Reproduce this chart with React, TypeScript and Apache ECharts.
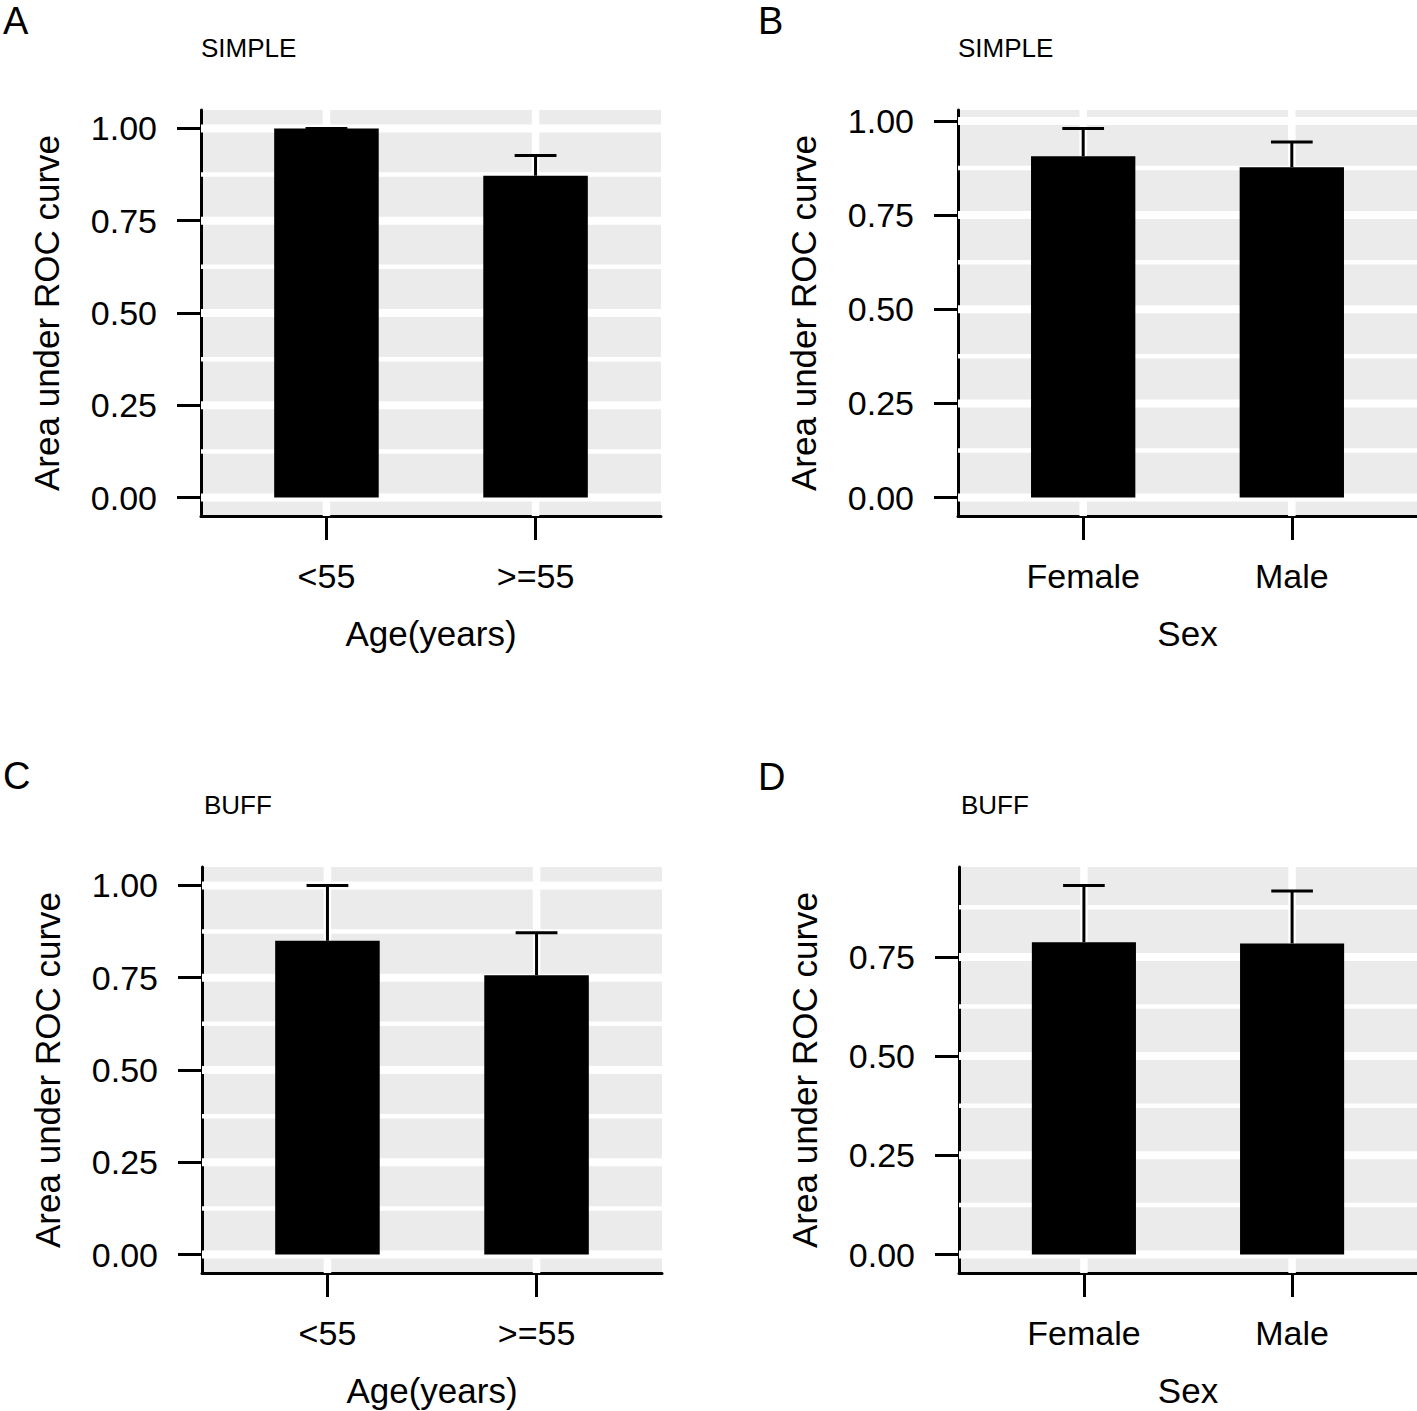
import React, { useEffect, useRef } from "react";
import * as echarts from "echarts";

// ---------- data ----------
const ageCategories = ["<55", ">=55"];
const sexCategories = ["Female", "Male"];

const simpleAgeAUC = [1.0, 0.872];
const simpleAgeUpper = [1.0, 0.927];
const simpleSexAUC = [0.906, 0.877];
const simpleSexUpper = [0.98, 0.944];
const buffAgeAUC = [0.85, 0.757];
const buffAgeUpper = [1.0, 0.872];
const buffSexAUC = [0.787, 0.784];
const buffSexUpper = [0.93, 0.916];

const yTickValues = [0, 0.25, 0.5, 0.75, 1.0];
const yMinorValues = [0.125, 0.375, 0.625, 0.875];

const panelLetters = ["A", "B", "C", "D"];
const panelSubtitles = ["SIMPLE", "SIMPLE", "BUFF", "BUFF"];
const xAxisTitles = ["Age(years)", "Sex", "Age(years)", "Sex"];
const yAxisTitle = "Area under ROC curve";

// ---------- layout / style ----------
const FONT = "'Liberation Sans', Arial, Helvetica, sans-serif";
const PANELS = [
  { cats: ageCategories, auc: simpleAgeAUC, upper: simpleAgeUpper, grid: { left: 201, top: 110, width: 460, height: 406 }, letter: [3, 21], sub: [201, 48] },
  { cats: sexCategories, auc: simpleSexAUC, upper: simpleSexUpper, grid: { left: 958, top: 110, width: 459, height: 406 }, letter: [758, 21], sub: [958, 48] },
  { cats: ageCategories, auc: buffAgeAUC, upper: buffAgeUpper, grid: { left: 202, top: 867, width: 460, height: 406 }, letter: [3, 776], sub: [204, 805] },
  { cats: sexCategories, auc: buffSexAUC, upper: buffSexUpper, grid: { left: 959, top: 867, width: 458, height: 406 }, letter: [758, 777], sub: [961, 805] },
];

const X_MIN = 0.4;
const X_MAX = 2.6;

function buildOption() {
  const grids: any[] = [];
  const xAxes: any[] = [];
  const yAxes: any[] = [];
  const series: any[] = [];
  const graphics: any[] = [];

  PANELS.forEach((p, i) => {
    const top = Math.max(...p.upper);
    const yMin = -0.05 * top;
    const yMax = 1.05 * top;
    const ticks = yTickValues.filter((v) => v >= yMin && v <= yMax);
    const catPos = p.cats.map((_, k) => k + 1);

    grids.push({
      ...p.grid,
      show: true,
      backgroundColor: "#EBEBEB",
      borderWidth: 0,
      containLabel: false,
    });

    xAxes.push({
      type: "value",
      gridIndex: i,
      min: X_MIN,
      max: X_MAX,
      position: "bottom",
      axisLine: { show: true, onZero: false, lineStyle: { color: "#000", width: 3 } },
      axisTick: { show: true, length: 24, customValues: catPos, lineStyle: { color: "#000", width: 3 } },
      axisLabel: {
        show: true,
        customValues: catPos,
        formatter: (v: number) => p.cats[Math.round(v) - 1] ?? "",
        margin: 43,
        fontSize: 34,
        color: "#000",
        fontFamily: FONT,
      },
      splitLine: { show: false },
      name: xAxisTitles[i],
      nameLocation: "middle",
      nameGap: 100,
      nameTextStyle: { fontSize: 35, color: "#000", fontFamily: FONT },
    });

    yAxes.push({
      type: "value",
      gridIndex: i,
      min: yMin,
      max: yMax,
      position: "left",
      axisLine: { show: true, onZero: false, lineStyle: { color: "#000", width: 3 } },
      axisTick: { show: true, length: 24, customValues: ticks, lineStyle: { color: "#000", width: 3 } },
      axisLabel: {
        show: true,
        customValues: ticks,
        formatter: (v: number) => v.toFixed(2),
        margin: 44,
        fontSize: 34,
        color: "#000",
        fontFamily: FONT,
      },
      splitLine: { show: false },
      name: yAxisTitle,
      nameLocation: "middle",
      nameGap: 137,
      nameTextStyle: { fontSize: 35, color: "#000", fontFamily: FONT },
    });

    // panel grid lines (white, ggplot style)
    series.push({
      type: "custom",
      xAxisIndex: i,
      yAxisIndex: i,
      z: 1,
      silent: true,
      data: [[1, 0]],
      renderItem: (params: any, api: any) => {
        const cs = params.coordSys;
        const children: any[] = [];
        const inY = (y: number) => y >= cs.y - 0.5 && y <= cs.y + cs.height + 0.5;
        yMinorValues.forEach((v) => {
          const y = api.coord([X_MIN, v])[1];
          if (inY(y))
            children.push({ type: "line", shape: { x1: cs.x, y1: y, x2: cs.x + cs.width, y2: y }, style: { stroke: "#fff", lineWidth: 4.5 } });
        });
        yTickValues.forEach((v) => {
          const y = api.coord([X_MIN, v])[1];
          if (inY(y))
            children.push({ type: "line", shape: { x1: cs.x, y1: y, x2: cs.x + cs.width, y2: y }, style: { stroke: "#fff", lineWidth: 8 } });
        });
        catPos.forEach((c) => {
          const x = api.coord([c, 0])[0];
          children.push({ type: "line", shape: { x1: x, y1: cs.y, x2: x, y2: cs.y + cs.height }, style: { stroke: "#fff", lineWidth: 7.5 } });
        });
        return { type: "group", children };
      },
    });

    // bars
    series.push({
      type: "bar",
      xAxisIndex: i,
      yAxisIndex: i,
      z: 2,
      barWidth: (p.grid.width * 0.5) / (X_MAX - X_MIN),
      itemStyle: { color: "#000" },
      data: p.auc.map((v, k) => [k + 1, v]),
    });

    // error bars (upper whisker)
    series.push({
      type: "custom",
      xAxisIndex: i,
      yAxisIndex: i,
      z: 3,
      encode: { x: 0, y: [1, 2] },
      data: p.auc.map((v, k) => [k + 1, v, p.upper[k]]),
      renderItem: (params: any, api: any) => {
        const x = api.value(0);
        const lo = api.coord([x, api.value(1)]);
        const hi = api.coord([x, api.value(2)]);
        const half = api.size([0.1, 0])[0];
        return {
          type: "group",
          children: [
            { type: "line", shape: { x1: lo[0], y1: lo[1], x2: hi[0], y2: hi[1] }, style: { stroke: "#000", lineWidth: 3 } },
            { type: "line", shape: { x1: hi[0] - half, y1: hi[1], x2: hi[0] + half, y2: hi[1] }, style: { stroke: "#000", lineWidth: 3 } },
          ],
        };
      },
    });

    graphics.push({
      type: "text",
      left: p.letter[0],
      top: p.letter[1] - 19,
      style: { text: panelLetters[i], fontSize: 38, fill: "#000", fontFamily: FONT },
    });
    graphics.push({
      type: "text",
      left: p.sub[0],
      top: p.sub[1] - 13,
      style: { text: panelSubtitles[i], fontSize: 26, fill: "#000", fontFamily: FONT },
    });
  });

  return {
    animation: false,
    backgroundColor: "#fff",
    textStyle: { fontFamily: FONT, color: "#000" },
    grid: grids,
    xAxis: xAxes,
    yAxis: yAxes,
    series,
    graphic: graphics,
  };
}

export default function App() {
  const ref = useRef<HTMLDivElement>(null);
  useEffect(() => {
    if (!ref.current) return;
    const chart = echarts.init(ref.current, null, { renderer: "svg" });
    chart.setOption(buildOption());
    return () => chart.dispose();
  }, []);
  return (
    <div
      ref={ref}
      style={{ position: "absolute", left: 0, top: 0, width: 1417, height: 1411, background: "#fff" }}
    />
  );
}
